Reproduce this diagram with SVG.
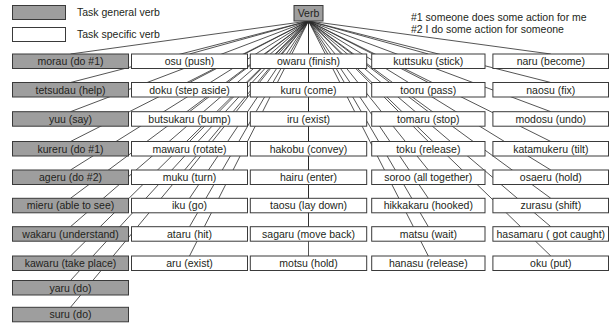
<svg xmlns="http://www.w3.org/2000/svg" width="616" height="323" viewBox="0 0 616 323">
<style>
.g{fill:#9e9e9e;stroke:#3a3a3a;stroke-width:1}
.w{fill:#ffffff;stroke:#3a3a3a;stroke-width:1}
.t{font-family:"Liberation Sans",Arial,sans-serif;font-size:10.5px;fill:#231f20;text-anchor:middle}
.l{font-family:"Liberation Sans",Arial,sans-serif;font-size:10.5px;fill:#231f20}
#connectors line{stroke:#2a2a2a;stroke-width:0.8}
</style>
<rect width="616" height="323" fill="#ffffff"/>
<g id="legend">
<rect class="g" x="12.5" y="5.5" width="53" height="14"/>
<rect class="w" x="12.5" y="27.5" width="53" height="14"/>
<text class="l" x="77" y="16">Task general verb</text>
<text class="l" x="77" y="38">Task specific verb</text>
<text class="l" x="411" y="20.5">#1 someone does some action for me</text>
<text class="l" x="411" y="33">#2 I do some action for someone</text>
</g>
<g id="connectors">
<line x1="308.5" y1="21" x2="70.5" y2="54"/>
<line x1="308.5" y1="21" x2="70.5" y2="82.5"/>
<line x1="308.5" y1="21" x2="70.5" y2="111.7"/>
<line x1="308.5" y1="21" x2="70.5" y2="141.5"/>
<line x1="308.5" y1="21" x2="70.5" y2="170"/>
<line x1="308.5" y1="21" x2="70.5" y2="198.3"/>
<line x1="308.5" y1="21" x2="70.5" y2="226.7"/>
<line x1="308.5" y1="21" x2="70.5" y2="256"/>
<line x1="308.5" y1="21" x2="70.5" y2="280.5"/>
<line x1="308.5" y1="21" x2="70.5" y2="307.3"/>
<line x1="308.5" y1="21" x2="189.5" y2="54"/>
<line x1="308.5" y1="21" x2="189.5" y2="82.5"/>
<line x1="308.5" y1="21" x2="189.5" y2="111.7"/>
<line x1="308.5" y1="21" x2="189.5" y2="141.5"/>
<line x1="308.5" y1="21" x2="189.5" y2="170"/>
<line x1="308.5" y1="21" x2="189.5" y2="198.3"/>
<line x1="308.5" y1="21" x2="189.5" y2="226.7"/>
<line x1="308.5" y1="21" x2="189.5" y2="256"/>
<line x1="308.5" y1="21" x2="308.5" y2="54"/>
<line x1="308.5" y1="21" x2="308.5" y2="82.5"/>
<line x1="308.5" y1="21" x2="308.5" y2="111.7"/>
<line x1="308.5" y1="21" x2="308.5" y2="141.5"/>
<line x1="308.5" y1="21" x2="308.5" y2="170"/>
<line x1="308.5" y1="21" x2="308.5" y2="198.3"/>
<line x1="308.5" y1="21" x2="308.5" y2="226.7"/>
<line x1="308.5" y1="21" x2="308.5" y2="256"/>
<line x1="308.5" y1="21" x2="428.3" y2="54"/>
<line x1="308.5" y1="21" x2="428.3" y2="82.5"/>
<line x1="308.5" y1="21" x2="428.3" y2="111.7"/>
<line x1="308.5" y1="21" x2="428.3" y2="141.5"/>
<line x1="308.5" y1="21" x2="428.3" y2="170"/>
<line x1="308.5" y1="21" x2="428.3" y2="198.3"/>
<line x1="308.5" y1="21" x2="428.3" y2="226.7"/>
<line x1="308.5" y1="21" x2="428.3" y2="256"/>
<line x1="308.5" y1="21" x2="550.8" y2="54"/>
<line x1="308.5" y1="21" x2="550.8" y2="82.5"/>
<line x1="308.5" y1="21" x2="550.8" y2="111.7"/>
<line x1="308.5" y1="21" x2="550.8" y2="141.5"/>
<line x1="308.5" y1="21" x2="550.8" y2="170"/>
<line x1="308.5" y1="21" x2="550.8" y2="198.3"/>
<line x1="308.5" y1="21" x2="550.8" y2="226.7"/>
<line x1="308.5" y1="21" x2="550.8" y2="256"/>
</g>
<g id="verb"><rect class="g" x="294" y="5.5" width="29" height="15.5"/><text class="t" x="308.5" y="17">Verb</text></g>
<g id="morau"><rect class="g" x="12.5" y="54" width="116" height="14.5"/><text class="t" x="70.5" y="65">morau (do #1)</text></g>
<g id="tetsudau"><rect class="g" x="12.5" y="82.5" width="116" height="14.5"/><text class="t" x="70.5" y="93.5">tetsudau (help)</text></g>
<g id="yuu"><rect class="g" x="12.5" y="111.7" width="116" height="14.5"/><text class="t" x="70.5" y="122.7">yuu (say)</text></g>
<g id="kureru"><rect class="g" x="12.5" y="141.5" width="116" height="14.5"/><text class="t" x="70.5" y="152.5">kureru (do #1)</text></g>
<g id="ageru"><rect class="g" x="12.5" y="170" width="116" height="14.5"/><text class="t" x="70.5" y="181">ageru (do #2)</text></g>
<g id="mieru"><rect class="g" x="12.5" y="198.3" width="116" height="14.5"/><text class="t" x="70.5" y="209.3">mieru (able to see)</text></g>
<g id="wakaru"><rect class="g" x="12.5" y="226.7" width="116" height="14.5"/><text class="t" x="70.5" y="237.7">wakaru (understand)</text></g>
<g id="kawaru"><rect class="g" x="12.5" y="256" width="116" height="14.5"/><text class="t" x="70.5" y="267">kawaru (take place)</text></g>
<g id="yaru"><rect class="g" x="12.5" y="280.5" width="116" height="14.5"/><text class="t" x="70.5" y="291.5">yaru (do)</text></g>
<g id="suru"><rect class="g" x="12.5" y="307.3" width="116" height="14.5"/><text class="t" x="70.5" y="318.3">suru (do)</text></g>
<g id="osu"><rect class="w" x="131.5" y="54" width="116" height="14.5"/><text class="t" x="189.5" y="65">osu (push)</text></g>
<g id="doku"><rect class="w" x="131.5" y="82.5" width="116" height="14.5"/><text class="t" x="189.5" y="93.5">doku (step aside)</text></g>
<g id="butsukaru"><rect class="w" x="131.5" y="111.7" width="116" height="14.5"/><text class="t" x="189.5" y="122.7">butsukaru (bump)</text></g>
<g id="mawaru"><rect class="w" x="131.5" y="141.5" width="116" height="14.5"/><text class="t" x="189.5" y="152.5">mawaru (rotate)</text></g>
<g id="muku"><rect class="w" x="131.5" y="170" width="116" height="14.5"/><text class="t" x="189.5" y="181">muku (turn)</text></g>
<g id="iku"><rect class="w" x="131.5" y="198.3" width="116" height="14.5"/><text class="t" x="189.5" y="209.3">iku (go)</text></g>
<g id="ataru"><rect class="w" x="131.5" y="226.7" width="116" height="14.5"/><text class="t" x="189.5" y="237.7">ataru (hit)</text></g>
<g id="aru"><rect class="w" x="131.5" y="256" width="116" height="14.5"/><text class="t" x="189.5" y="267">aru (exist)</text></g>
<g id="owaru"><rect class="w" x="250.3" y="54" width="116.4" height="14.5"/><text class="t" x="308.5" y="65">owaru (finish)</text></g>
<g id="kuru"><rect class="w" x="250.3" y="82.5" width="116.4" height="14.5"/><text class="t" x="308.5" y="93.5">kuru (come)</text></g>
<g id="iru"><rect class="w" x="250.3" y="111.7" width="116.4" height="14.5"/><text class="t" x="308.5" y="122.7">iru (exist)</text></g>
<g id="hakobu"><rect class="w" x="250.3" y="141.5" width="116.4" height="14.5"/><text class="t" x="308.5" y="152.5">hakobu (convey)</text></g>
<g id="hairu"><rect class="w" x="250.3" y="170" width="116.4" height="14.5"/><text class="t" x="308.5" y="181">hairu (enter)</text></g>
<g id="taosu"><rect class="w" x="250.3" y="198.3" width="116.4" height="14.5"/><text class="t" x="308.5" y="209.3">taosu (lay down)</text></g>
<g id="sagaru"><rect class="w" x="250.3" y="226.7" width="116.4" height="14.5"/><text class="t" x="308.5" y="237.7">sagaru (move back)</text></g>
<g id="motsu"><rect class="w" x="250.3" y="256" width="116.4" height="14.5"/><text class="t" x="308.5" y="267">motsu (hold)</text></g>
<g id="kuttsuku"><rect class="w" x="371.7" y="54" width="113.3" height="14.5"/><text class="t" x="428.3" y="65">kuttsuku (stick)</text></g>
<g id="tooru"><rect class="w" x="371.7" y="82.5" width="113.3" height="14.5"/><text class="t" x="428.3" y="93.5">tooru (pass)</text></g>
<g id="tomaru"><rect class="w" x="371.7" y="111.7" width="113.3" height="14.5"/><text class="t" x="428.3" y="122.7">tomaru (stop)</text></g>
<g id="toku"><rect class="w" x="371.7" y="141.5" width="113.3" height="14.5"/><text class="t" x="428.3" y="152.5">toku (release)</text></g>
<g id="soroo"><rect class="w" x="371.7" y="170" width="113.3" height="14.5"/><text class="t" x="428.3" y="181">soroo (all together)</text></g>
<g id="hikkakaru"><rect class="w" x="371.7" y="198.3" width="113.3" height="14.5"/><text class="t" x="428.3" y="209.3">hikkakaru (hooked)</text></g>
<g id="matsu"><rect class="w" x="371.7" y="226.7" width="113.3" height="14.5"/><text class="t" x="428.3" y="237.7">matsu (wait)</text></g>
<g id="hanasu"><rect class="w" x="371.7" y="256" width="113.3" height="14.5"/><text class="t" x="428.3" y="267">hanasu (release)</text></g>
<g id="naru"><rect class="w" x="492.9" y="54" width="115.6" height="14.5"/><text class="t" x="550.8" y="65">naru (become)</text></g>
<g id="naosu"><rect class="w" x="492.9" y="82.5" width="115.6" height="14.5"/><text class="t" x="550.8" y="93.5">naosu (fix)</text></g>
<g id="modosu"><rect class="w" x="492.9" y="111.7" width="115.6" height="14.5"/><text class="t" x="550.8" y="122.7">modosu (undo)</text></g>
<g id="katamukeru"><rect class="w" x="492.9" y="141.5" width="115.6" height="14.5"/><text class="t" x="550.8" y="152.5">katamukeru (tilt)</text></g>
<g id="osaeru"><rect class="w" x="492.9" y="170" width="115.6" height="14.5"/><text class="t" x="550.8" y="181">osaeru (hold)</text></g>
<g id="zurasu"><rect class="w" x="492.9" y="198.3" width="115.6" height="14.5"/><text class="t" x="550.8" y="209.3">zurasu (shift)</text></g>
<g id="hasamaru"><rect class="w" x="492.9" y="226.7" width="115.6" height="14.5"/><text class="t" x="550.8" y="237.7">hasamaru ( got caught)</text></g>
<g id="oku"><rect class="w" x="492.9" y="256" width="115.6" height="14.5"/><text class="t" x="550.8" y="267">oku (put)</text></g>
</svg>
